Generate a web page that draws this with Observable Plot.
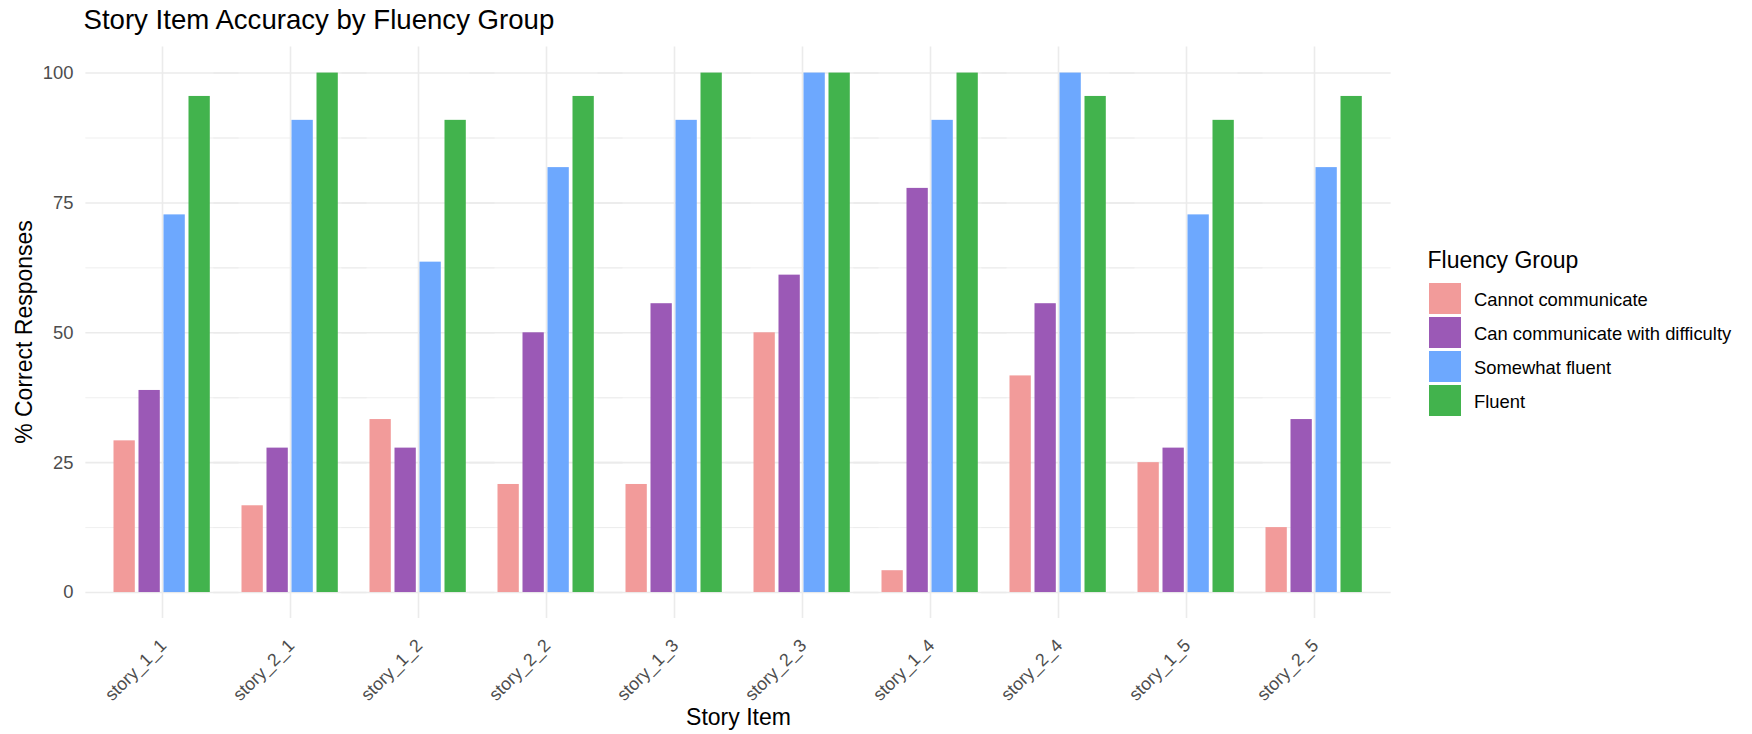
<!DOCTYPE html>
<html>
<head>
<meta charset="utf-8">
<script src="https://cdn.jsdelivr.net/npm/d3@7"></script>
<script src="https://cdn.jsdelivr.net/npm/@observablehq/plot@0.6"></script>
<style>
  body { margin: 0; background: #ffffff; font-family: "Liberation Sans", Arial, Helvetica, sans-serif; }
  #wrap { position: relative; width: 1752px; height: 734px; overflow: hidden; background: #fff; }
  .abs { position: absolute; white-space: nowrap; color: #000; }
  #title { left: 83.5px; top: 5.9px; font-size: 27.6px; line-height: 27.6px; }
  #ytitle { left: 23.5px; top: 332.3px; font-size: 23px; line-height: 23px; transform: translate(-50%, -50%) rotate(-90deg); }
  #xtitle { left: 738.5px; top: 706.2px; font-size: 23px; line-height: 23px; transform: translateX(-50%); }
  #ltitle { left: 1427.5px; top: 248.8px; font-size: 23px; line-height: 23px; }
  .swatch { position: absolute; width: 31.6px; height: 31.4px; }
  .ltext { position: absolute; font-size: 18.4px; line-height: 18.4px; white-space: nowrap; color: #000; }
  #chart { position: absolute; left: 0; top: 40px; }
</style>
</head>
<body>
<div id="wrap">
  <div id="title" class="abs">Story Item Accuracy by Fluency Group</div>
  <div id="ytitle" class="abs">% Correct Responses</div>
  <div id="xtitle" class="abs">Story Item</div>
  <div id="ltitle" class="abs">Fluency Group</div>
  <div id="legend"></div>
  <div id="chart"></div>
</div>
<script>
// ---- data ----
const items = ["story_1_1","story_2_1","story_1_2","story_2_2","story_1_3","story_2_3","story_1_4","story_2_4","story_1_5","story_2_5"];
const groups = ["Cannot communicate","Can communicate with difficulty","Somewhat fluent","Fluent"];
const cannotCommunicate = [29.2, 16.7, 33.3, 20.8, 20.8, 50.0, 4.2, 41.7, 25.0, 12.5];
const withDifficulty    = [38.9, 27.8, 27.8, 50.0, 55.6, 61.1, 77.8, 55.6, 27.8, 33.3];
const somewhatFluent    = [72.7, 90.9, 63.6, 81.8, 90.9, 100.0, 90.9, 100.0, 72.7, 81.8];
const fluent            = [95.5, 100.0, 90.9, 95.5, 100.0, 100.0, 100.0, 95.5, 90.9, 95.5];
const colors = ["#F29B9A","#9B59B6","#6DA8FE","#42B34D"];
const yTicks = [0, 25, 50, 75, 100];
const yMinorTicks = [12.5, 37.5, 62.5, 87.5];

const series = [cannotCommunicate, withDifficulty, somewhatFluent, fluent];
const rows = [];
items.forEach((item, i) => {
  groups.forEach((g, j) => rows.push({item, group: g, value: series[j][i]}));
});

const W = 1752, ML = 85, MR = 360, PAD = 0.2;
// band step of the facet scale; gridlines are extended by one padding gap so they run across facets
const step = (W - ML - MR) / (items.length - PAD + 2 * PAD);
const ext = -PAD * step;

const font = '"Liberation Sans", Arial, Helvetica, sans-serif';
const chart = Plot.plot({
  width: W,
  height: 694,
  marginLeft: ML,
  marginRight: MR,
  marginTop: 6.6,
  marginBottom: 116,
  style: {fontFamily: font, background: "transparent", overflow: "visible"},
  fx: {domain: items, paddingInner: PAD, paddingOuter: PAD, label: null},
  x: {domain: groups, padding: 0, axis: null},
  y: {domain: [-5, 105], label: null},
  color: {domain: groups, range: colors},
  marks: [
    Plot.ruleY(yMinorTicks, {stroke: "#ebebeb", strokeWidth: 0.8, insetLeft: ext, insetRight: ext}),
    Plot.ruleY(yTicks, {stroke: "#ebebeb", strokeWidth: 1.6, insetLeft: ext, insetRight: ext}),
    Plot.gridFx({stroke: "#ebebeb", strokeOpacity: 1, strokeWidth: 1.6}),
    Plot.barY(rows, {fx: "item", x: "group", y: "value", fill: "group", insetLeft: 1.5, insetRight: 2.2}),
    Plot.axisY({ticks: yTicks, tickSize: 0, tickPadding: 38, fontSize: 18.4, fill: "#4d4d4d", label: null}),
    Plot.axisFx({anchor: "bottom", tickRotate: -45, tickSize: 0, tickPadding: 24, dx: 1, fontSize: 17.8, fill: "#4d4d4d", label: null})
  ]
});
document.getElementById("chart").appendChild(chart);

// ---- legend ----
const legend = document.getElementById("legend");
groups.forEach((g, i) => {
  const sw = document.createElement("div");
  sw.className = "swatch";
  sw.style.left = "1429.3px";
  sw.style.top = (282.7 + i * 34.1) + "px";
  sw.style.background = colors[i];
  legend.appendChild(sw);
  const t = document.createElement("div");
  t.className = "ltext";
  t.style.left = "1474px";
  t.style.top = (290.7 + i * 34.1) + "px";
  t.textContent = g;
  legend.appendChild(t);
});
</script>
</body>
</html>
